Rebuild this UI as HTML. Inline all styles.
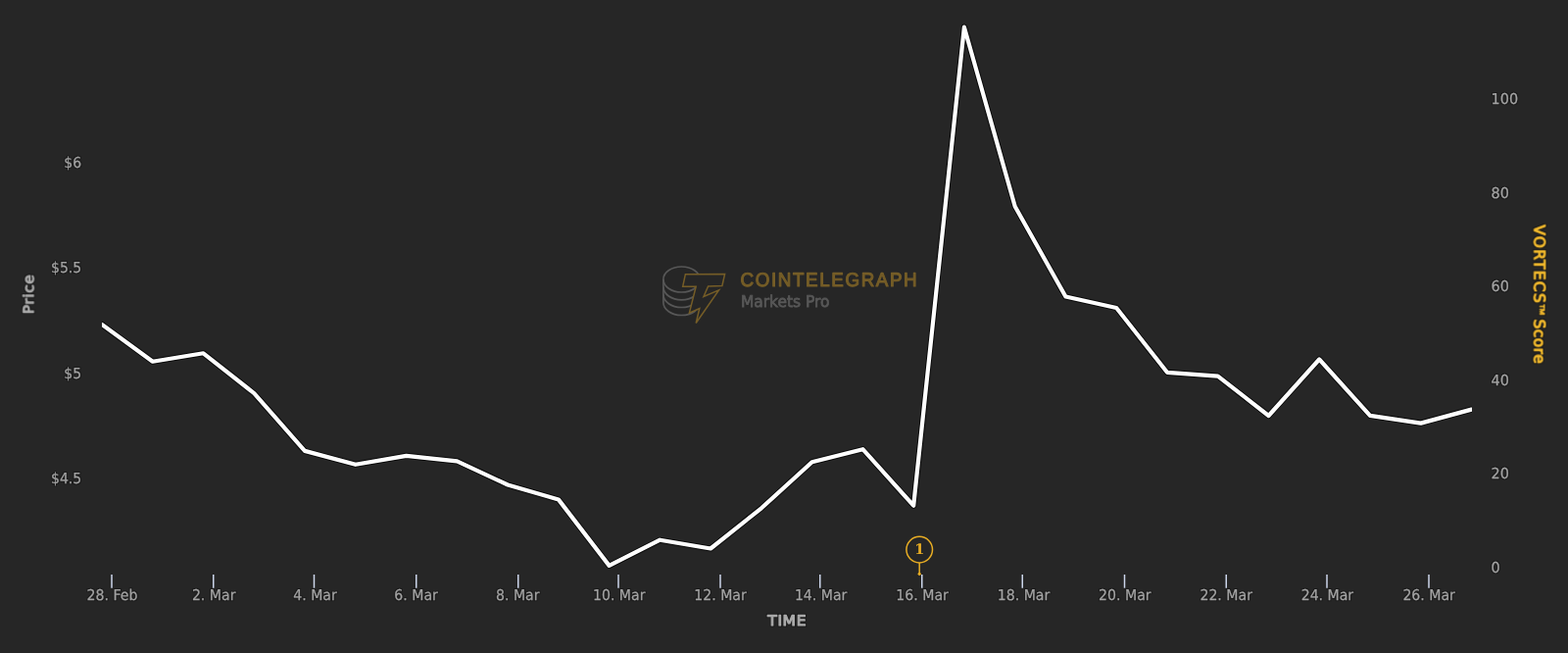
<!DOCTYPE html>
<html lang="en">
<head>
<meta charset="utf-8">
<title>VORTECS Score vs Price</title>
<style>
html,body{margin:0;padding:0;background:#262626;}
body{width:1600px;height:666px;overflow:hidden;}
svg{display:block;}
text{text-rendering:geometricPrecision;}
.tick{font-family:"DejaVu Sans","Liberation Sans",sans-serif;font-size:15.0px;fill:#a3a3a3;stroke:#a3a3a3;stroke-width:0.25px;}
.ttl{font-family:"DejaVu Sans","Liberation Sans",sans-serif;font-weight:normal;font-size:14.5px;stroke-width:1.1px;stroke-linejoin:round;}
</style>
</head>
<body>
<svg width="1600" height="666" viewBox="0 0 1600 666">
<rect x="0" y="0" width="1600" height="666" fill="#262626"/>
<defs>
  <filter id="halo" x="-20%" y="-20%" width="140%" height="140%" color-interpolation-filters="sRGB">
    <feMorphology in="SourceAlpha" operator="dilate" radius="0.800" result="d"/>
    <feGaussianBlur in="d" stdDeviation="0.350" result="b"/>
    <feFlood flood-color="#0c0c0c" flood-opacity="0.400" result="f"/>
    <feComposite in="f" in2="b" operator="in" result="h"/>
    <feGaussianBlur in="SourceGraphic" stdDeviation="0.300" result="sg"/>
    <feMerge><feMergeNode in="h"/><feMergeNode in="sg"/></feMerge>
  </filter>
  <filter id="soft" x="-10%" y="-10%" width="120%" height="120%" color-interpolation-filters="sRGB">
    <feGaussianBlur in="SourceGraphic" stdDeviation="0.450"/>
  </filter>
</defs>

<!-- watermark -->
<g id="wm" filter="url(#soft)">
  <g fill="none" stroke="#575757" stroke-width="1.7" transform="translate(0.5,0.5)">
    <ellipse cx="695" cy="284.500" rx="18.600" ry="13"/>
    <path d="M676.400 284.500v23.500c0 7.200 8.300 13 18.600 13s18.600-5.800 18.600-13"/>
    <path d="M676.400 292.300c0 7.200 8.300 13 18.600 13s18.600-5.800 18.600-13"/>
    <path d="M676.400 300c0 7.200 8.300 13 18.600 13s18.600-5.800 18.600-13"/>
  </g>
  <path transform="translate(0.2,0.5)" d="M699.200 279.200L739.400 279L736.700 291L722.400 291.500L717.800 302L733.300 295.400L710 329L713.600 314L703.200 318.600L710 291.800L696.500 291.800Z" fill="#262626" stroke="#755d27" stroke-width="1.500" stroke-linejoin="miter"/>
  <text transform="translate(755.500,292.200) scale(0.950,1)" font-family="Liberation Sans, sans-serif" font-size="19.800" letter-spacing="1.700" fill="#755d27" stroke="#755d27" stroke-width="1.100" stroke-linejoin="round">COINTELEGRAPH</text>
  <text transform="translate(755.900,312.500) scale(0.955,1)" font-family="DejaVu Sans, Liberation Sans, sans-serif" font-size="16.200" fill="#585858" stroke="#585858" stroke-width="0.750">Markets Pro</text>
</g>

<!-- x ticks -->
<g stroke="#ccd6eb" stroke-width="1.500" id="xt">
<line x1="114.00" y1="586" x2="114.00" y2="599.700"/>
<line x1="217.75" y1="586" x2="217.75" y2="599.700"/>
<line x1="320.50" y1="586" x2="320.50" y2="599.700"/>
<line x1="424.75" y1="586" x2="424.75" y2="599.700"/>
<line x1="528.75" y1="586" x2="528.75" y2="599.700"/>
<line x1="631.00" y1="586" x2="631.00" y2="599.700"/>
<line x1="735.00" y1="586" x2="735.00" y2="599.700"/>
<line x1="836.75" y1="586" x2="836.75" y2="599.700"/>
<line x1="940.75" y1="586" x2="940.75" y2="599.700"/>
<line x1="1043.25" y1="586" x2="1043.25" y2="599.700"/>
<line x1="1147.50" y1="586" x2="1147.50" y2="599.700"/>
<line x1="1251.25" y1="586" x2="1251.25" y2="599.700"/>
<line x1="1354.00" y1="586" x2="1354.00" y2="599.700"/>
<line x1="1458.00" y1="586" x2="1458.00" y2="599.700"/>
</g>

<!-- series -->
<svg x="104" y="0" width="1398" height="600" viewBox="104 0 1398 600" overflow="hidden">
<polyline fill="none" stroke="#080808" stroke-opacity="0.900" stroke-width="6.200" stroke-linejoin="round" stroke-linecap="round"
 points="104.0,330.9 155.8,368.7 207.5,360.3 259.3,401.1 311.0,459.9 362.8,473.8 414.6,464.9 466.3,470.3 518.1,494.5 569.8,509.4 621.6,576.9 673.4,550.7 725.1,559.5 776.9,518.3 828.6,471.3 880.4,458.2 932.2,515.7 983.9,27.7 1035.7,210.5 1087.4,302.5 1139.2,314.0 1191.0,379.8 1242.7,383.6 1294.5,424.0 1346.2,366.5 1398.0,423.8 1449.8,431.6 1501.5,417.6"/>
<polyline id="line" fill="none" stroke="#ffffff" stroke-width="4.200" stroke-linejoin="round" stroke-linecap="round"
 points="104.0,330.9 155.8,368.7 207.5,360.3 259.3,401.1 311.0,459.9 362.8,473.8 414.6,464.9 466.3,470.3 518.1,494.5 569.8,509.4 621.6,576.9 673.4,550.7 725.1,559.5 776.9,518.3 828.6,471.3 880.4,458.2 932.2,515.7 983.9,27.7 1035.7,210.5 1087.4,302.5 1139.2,314.0 1191.0,379.8 1242.7,383.6 1294.5,424.0 1346.2,366.5 1398.0,423.8 1449.8,431.6 1501.5,417.6"/>
</svg>

<!-- flag -->
<g id="flag" stroke="#e8ad24" fill="none">
  <line x1="938.200" y1="574" x2="938.200" y2="585.500" stroke-width="1.500"/>
  <circle cx="938.200" cy="560.600" r="13.300" stroke-width="1.500" fill="#262626"/>
  <circle cx="938.200" cy="585.300" r="1.600" fill="#e8ad24" stroke="none"/>
</g>
<text x="938.400" y="564.800" text-anchor="middle" font-family="DejaVu Serif, DejaVu Sans, serif" font-weight="bold" font-size="14.500" fill="#e8ad24">1</text>

<g id="labels" filter="url(#halo)">
<text class="tick" transform="translate(114.56,611.70) scale(0.94,1)" text-anchor="middle">28. Feb</text>
<text class="tick" transform="translate(218.16,611.70) scale(0.94,1)" text-anchor="middle">2. Mar</text>
<text class="tick" transform="translate(321.52,611.70) scale(0.94,1)" text-anchor="middle">4. Mar</text>
<text class="tick" transform="translate(424.62,611.70) scale(0.94,1)" text-anchor="middle">6. Mar</text>
<text class="tick" transform="translate(528.22,611.70) scale(0.94,1)" text-anchor="middle">8. Mar</text>
<text class="tick" transform="translate(631.70,611.70) scale(0.94,1)" text-anchor="middle">10. Mar</text>
<text class="tick" transform="translate(735.05,611.70) scale(0.94,1)" text-anchor="middle">12. Mar</text>
<text class="tick" transform="translate(837.65,611.70) scale(0.94,1)" text-anchor="middle">14. Mar</text>
<text class="tick" transform="translate(941.07,611.70) scale(0.94,1)" text-anchor="middle">16. Mar</text>
<text class="tick" transform="translate(1044.49,611.70) scale(0.94,1)" text-anchor="middle">18. Mar</text>
<text class="tick" transform="translate(1147.84,611.70) scale(0.94,1)" text-anchor="middle">20. Mar</text>
<text class="tick" transform="translate(1251.19,611.70) scale(0.94,1)" text-anchor="middle">22. Mar</text>
<text class="tick" transform="translate(1354.42,611.70) scale(0.94,1)" text-anchor="middle">24. Mar</text>
<text class="tick" transform="translate(1458.14,611.70) scale(0.94,1)" text-anchor="middle">26. Mar</text>
<text class="tick" transform="translate(83.20,171.20) scale(0.935,1)" text-anchor="end">$6</text>
<text class="tick" transform="translate(83.20,278.20) scale(0.935,1)" text-anchor="end">$5.5</text>
<text class="tick" transform="translate(83.20,385.60) scale(0.935,1)" text-anchor="end">$5</text>
<text class="tick" transform="translate(83.20,493.00) scale(0.935,1)" text-anchor="end">$4.5</text>
<text class="tick" transform="translate(1521.60,106.30) scale(0.96,1)" text-anchor="start">100</text>
<text class="tick" transform="translate(1521.60,201.80) scale(0.96,1)" text-anchor="start">80</text>
<text class="tick" transform="translate(1521.60,297.30) scale(0.96,1)" text-anchor="start">60</text>
<text class="tick" transform="translate(1521.60,392.80) scale(0.96,1)" text-anchor="start">40</text>
<text class="tick" transform="translate(1521.60,488.30) scale(0.96,1)" text-anchor="start">20</text>
<text class="tick" transform="translate(1521.60,583.80) scale(0.96,1)" text-anchor="start">0</text>
</g>

<g filter="url(#halo)">
<text class="ttl" transform="translate(803.2,637.900) scale(1.07,1)" text-anchor="middle" fill="#aaaaaa" stroke="#aaaaaa" letter-spacing="0.6">TIME</text>
<text class="ttl" transform="translate(34.300,300) rotate(-90) scale(1.06,1)" text-anchor="middle" fill="#aaaaaa" stroke="#aaaaaa" letter-spacing="0.6">Price</text>
<text class="ttl" font-size="15.500" style="font-size:15.5px" transform="translate(1565.500,229.300) rotate(90) scale(1.0,1)" text-anchor="start" fill="#f4bb2d" stroke="#f4bb2d"><tspan letter-spacing="1.230">VORTECS</tspan><tspan font-family="Liberation Sans, sans-serif" font-size="12.500" stroke-width="0.7" dx="-0.500" dy="-2.300">™</tspan><tspan dy="2.300" dx="-1.800" letter-spacing="0.450"> Score</tspan></text>
</g>
</svg>
</body>
</html>
